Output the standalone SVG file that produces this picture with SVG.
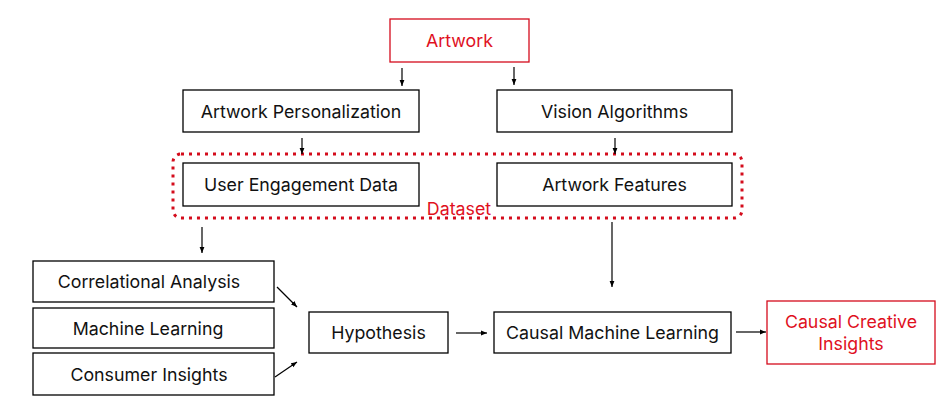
<svg xmlns="http://www.w3.org/2000/svg" width="948" height="410" viewBox="0 0 948 410">
<style>
.box{fill:#fff;stroke:#000;stroke-width:1.3}
.rbox{fill:#fff;stroke:#d40c1c;stroke-width:1.3}
.t{font-family:Inter,"Noto Sans",sans-serif;font-size:17.8px;fill:#111;text-anchor:middle;dominant-baseline:central}
.rt{fill:#e0101e}
.c{stroke:#000;stroke-width:1.2;fill:none;marker-end:url(#ah)}
</style>
<defs>
<marker id="ah" viewBox="0 0 10 10" refX="10" refY="5" markerWidth="6" markerHeight="6" markerUnits="userSpaceOnUse" orient="auto">
<path d="M0,1 L10,5 L0,9 z" fill="#000"/>
</marker>
</defs>
<rect x="0" y="0" width="948" height="410" fill="#fff"/>
<g id="dataset">
<rect x="173" y="154" width="569" height="64" rx="8" fill="none" stroke="#d40c1c" stroke-width="3" stroke-dasharray="3 5"/>
<text class="t rt" x="459" y="208">Dataset</text>
</g>
<g id="connectors">
<line class="c" x1="402" y1="68" x2="402" y2="86"/>
<line class="c" x1="514" y1="67" x2="514" y2="85"/>
<line class="c" x1="302" y1="138" x2="302" y2="154"/>
<line class="c" x1="615" y1="138" x2="615" y2="154"/>
<line class="c" x1="202" y1="227" x2="202" y2="253"/>
<line class="c" x1="612" y1="222" x2="612" y2="287"/>
<line class="c" x1="277" y1="287" x2="297" y2="307"/>
<line class="c" x1="275" y1="377" x2="297" y2="362"/>
<line class="c" x1="456" y1="333" x2="487" y2="333"/>
<line class="c" x1="736" y1="332" x2="766" y2="332"/>
</g>
<g id="artwork">
<rect class="rbox" x="390" y="19" width="139" height="43"/>
<text class="t rt" x="459.5" y="40.5">Artwork</text>
</g>
<g id="artwork-personalization">
<rect class="box" x="183" y="90" width="236" height="42"/>
<text class="t" x="301" y="111">Artwork Personalization</text>
</g>
<g id="vision-algorithms">
<rect class="box" x="497" y="90" width="235" height="42"/>
<text class="t" x="614.5" y="111">Vision Algorithms</text>
</g>
<g id="user-engagement-data">
<rect class="box" x="183" y="163" width="236" height="43"/>
<text class="t" x="301" y="184.5">User Engagement Data</text>
</g>
<g id="artwork-features">
<rect class="box" x="497" y="163" width="235" height="43"/>
<text class="t" x="614.5" y="184.5">Artwork Features</text>
</g>
<g id="correlational-analysis">
<rect class="box" x="33" y="261" width="241" height="41"/>
<text class="t" x="149" y="281.5">Correlational Analysis</text>
</g>
<g id="machine-learning">
<rect class="box" x="33" y="308" width="241" height="40"/>
<text class="t" x="148" y="328">Machine Learning</text>
</g>
<g id="consumer-insights">
<rect class="box" x="33" y="353" width="241" height="42"/>
<text class="t" x="149" y="374">Consumer Insights</text>
</g>
<g id="hypothesis">
<rect class="box" x="309" y="312" width="139" height="41"/>
<text class="t" x="378.5" y="332.5">Hypothesis</text>
</g>
<g id="causal-machine-learning">
<rect class="box" x="494" y="312" width="237" height="41"/>
<text class="t" x="612.5" y="332.5">Causal Machine Learning</text>
</g>
<g id="causal-creative-insights">
<rect class="rbox" x="767" y="301" width="168" height="63"/>
<text class="t rt" x="851" y="321.5">Causal Creative</text>
<text class="t rt" x="851" y="343.5">Insights</text>
</g>
</svg>
